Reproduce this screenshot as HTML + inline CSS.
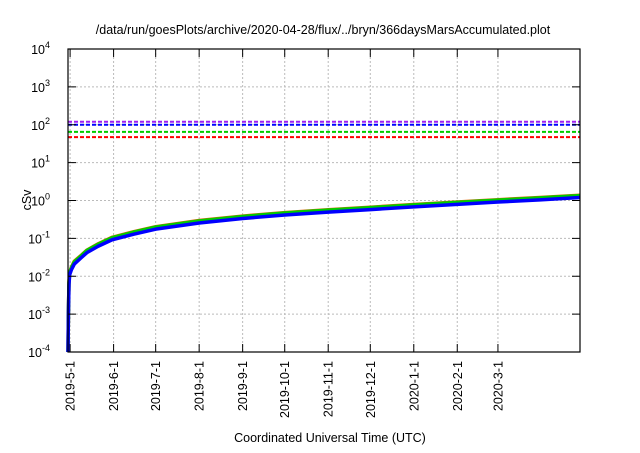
<!DOCTYPE html>
<html><head><meta charset="utf-8"><style>
body{margin:0;background:#fff}
svg text{font-family:"Liberation Sans",sans-serif;fill:#000}
</style></head><body>
<svg width="640" height="448" xmlns="http://www.w3.org/2000/svg">
<text x="323" y="34" font-size="12.5" text-anchor="middle">/data/run/goesPlots/archive/2020-04-28/flux/../bryn/366daysMarsAccumulated.plot</text>
<text transform="translate(31,200) rotate(-90)" font-size="12.5" text-anchor="middle">cSv</text>
<text x="330" y="442" font-size="12.5" text-anchor="middle">Coordinated Universal Time (UTC)</text>
<g id="grid"></g><g id="series"></g><g id="axes"></g>
</svg>
<script>
const xTickLabels=["2019-5-1","2019-6-1","2019-7-1","2019-8-1","2019-9-1","2019-10-1","2019-11-1","2019-12-1","2020-1-1","2020-2-1","2020-3-1"];
const xTickDays=[0,31,61,92,123,153,184,214,245,276,305];
const yTickExps=[-4,-3,-2,-1,0,1,2,3,4];
const days=[-1.5,-1.2,-0.8,-0.3,1,3,8,12,20,30,45,61,92,123,153,184,214,245,276,305,335,363.5];
const blueVals=[0.0001,0.001,0.006,0.011,0.015,0.021,0.031,0.042,0.062,0.092,0.128,0.175,0.255,0.335,0.415,0.495,0.575,0.68,0.79,0.91,1.04,1.2];
const greenVals=[0.0001,0.0011,0.0068,0.0125,0.017,0.024,0.035,0.048,0.07,0.104,0.145,0.198,0.288,0.378,0.468,0.558,0.648,0.766,0.89,1.025,1.17,1.35];
const redVals=[0.0001,0.0011,0.007,0.013,0.0175,0.025,0.036,0.049,0.072,0.107,0.149,0.203,0.296,0.388,0.48,0.572,0.665,0.786,0.913,1.05,1.2,1.38];
const limitNames=["purple","blue","green","red"];
const limitVals=[120,100,65,47];
const limitColors=["#a020f0","#0000ff","#00cc00","#ff0000"];
const L=68,R=580,T=49,B=352,D0=-1.5,D1=363.5;
const X=d=>L+(d-D0)/(D1-D0)*(R-L);
const Y=v=>B-(Math.log10(v)+4)/8*(B-T);
const NS="http://www.w3.org/2000/svg";
function mk(t,a,p){const e=document.createElementNS(NS,t);for(const k in a)e.setAttribute(k,a[k]);p.appendChild(e);return e;}
const grid=document.getElementById('grid'),axes=document.getElementById('axes'),ser=document.getElementById('series');
yTickExps.forEach(e=>{const y=Y(Math.pow(10,e));
 if(e>-4&&e<4){const g=mk('line',{x1:L,x2:R,y1:y,y2:y,stroke:'#bbb','stroke-dasharray':'2,2','stroke-width':1},grid);
 
 }
 const t1=mk('line',{x1:L,x2:L+8,y1:y,y2:y,stroke:'#000'},axes);
 
 
 const t2=mk('line',{x1:R-8,x2:R,y1:y,y2:y,stroke:'#000'},axes);
 
 
 const tx=mk('text',{x:L-18,y:y+5,'font-size':12.5,'text-anchor':'end'},axes);
 
 
 tx.textContent='10';
 const s=mk('tspan',{dy:-6,'font-size':9},tx);s.textContent=e;});
xTickDays.forEach((d,i)=>{const x=X(d);
 const g=mk('line',{x1:x,x2:x,y1:T,y2:B,stroke:'#bbb','stroke-dasharray':'2,2','stroke-width':1},grid);
 
 
 const t1=mk('line',{x1:x,x2:x,y1:B,y2:B-8,stroke:'#000'},axes);
 
 
 const t2=mk('line',{x1:x,x2:x,y1:T,y2:T+8,stroke:'#000'},axes);
 
 
 const tx=mk('text',{transform:`translate(${x+4.5},${B+9}) rotate(-90)`,'font-size':12.5,'text-anchor':'end'},axes);
 
 
 tx.textContent=xTickLabels[i];});
const fr=mk('rect',{x:L,y:T,width:R-L,height:B-T,fill:'none',stroke:'#000','stroke-width':1.2},axes);


limitVals.forEach((v,i)=>{const y=Y(v);
 const l=mk('line',{x1:L,x2:R,y1:y,y2:y,stroke:limitColors[i],'stroke-width':2,'stroke-dasharray':'4,2'},ser);
 
 });
[[redVals,'#e06000','red-series'],[greenVals,'#00cc00','green-series'],[blueVals,'#0000ff','blue-series']].forEach(([vals,c,n])=>{
 const p=mk('polyline',{points:days.map((d,i)=>X(d)+','+Y(vals[i])).join(' '),fill:'none',stroke:c,'stroke-width':3.5,'stroke-linejoin':'round'},ser);
 
 });
</script>
</body></html>
